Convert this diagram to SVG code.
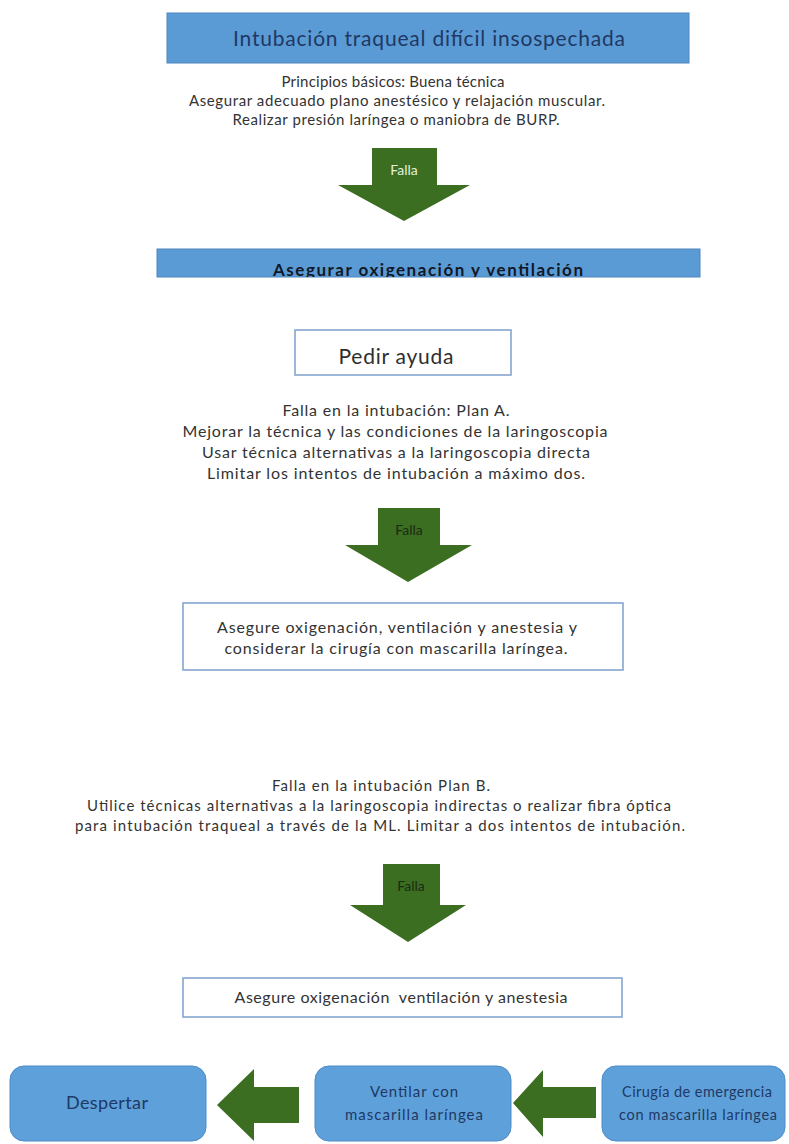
<svg xmlns="http://www.w3.org/2000/svg" width="789" height="1144" viewBox="0 0 789 1144">
<style>
text{font-family:Lato,"Open Sans","Liberation Sans",sans-serif;text-anchor:middle}
.blue{fill:#5b9bd5;stroke:#4f86c0;stroke-width:1}
.wbox{fill:#ffffff;stroke:#86a6cf;stroke-width:1.6}
.rbox{fill:#5ea1da;stroke:#4d8bc6;stroke-width:1}
.navy{fill:#1f3864}
.body{fill:#333333;font-size:15px}
.body15{fill:#333333;font-size:16px}
.arrow{fill:#3b6e21}
.fl{font-size:14px;fill:#e4f0dc}
.fd{font-size:14px;fill:#1c2a14}
</style>
<defs>
<clipPath id="clip2"><rect x="157" y="249" width="543" height="28"/></clipPath>
</defs>
<rect width="789" height="1144" fill="#ffffff"/>

<g id="connectors">
<polygon class="arrow" points="372,148 437,148 437,185 470,185 404,221 338,185 372,185"/>
<polygon class="arrow" points="378,508 440,508 440,545 472,545 408,582 345,545 378,545"/>
<polygon class="arrow" points="383,864 440,864 440,905 466,905 408,942 350,905 383,905"/>
<polygon class="arrow" points="299,1087 254,1087 254,1069 217,1105 254,1141 254,1123 299,1123"/>
<polygon class="arrow" points="596,1087 543,1087 543,1070 513,1103 543,1137 543,1118 596,1118"/>
<text class="fl" x="404" y="175">Falla</text>
<text class="fd" x="409" y="535">Falla</text>
<text class="fd" x="411" y="891">Falla</text>
</g>

<g id="n-title">
<rect class="blue" x="167" y="13" width="522" height="50"/>
<text class="navy" x="429" y="46" font-size="21" textLength="392">Intubación traqueal difícil insospechada</text>
</g>

<g id="n-principios">
<text class="body" x="393" y="87" textLength="223">Principios básicos: Buena técnica</text>
<text class="body" x="397" y="106" textLength="416">Asegurar adecuado plano anestésico y relajación muscular.</text>
<text class="body" x="396" y="125" textLength="327">Realizar presión laríngea o maniobra de BURP.</text>
</g>

<g id="n-asegurar">
<rect class="blue" x="157" y="249" width="543" height="28"/>
<text clip-path="url(#clip2)" x="428" y="276" font-size="17" font-weight="bold" fill="#111827" textLength="310">Asegurar oxigenación y ventilación</text>
</g>

<g id="n-pedir">
<rect class="wbox" x="295" y="330" width="216" height="45"/>
<text x="396" y="364" font-size="21" fill="#2e2e2e" textLength="115">Pedir ayuda</text>
</g>

<g id="n-planA">
<text class="body15" x="396" y="416" textLength="227">Falla en la intubación: Plan A.</text>
<text class="body15" x="395" y="437" textLength="425">Mejorar la técnica y las condiciones de la laringoscopia</text>
<text class="body15" x="396" y="458" textLength="388">Usar técnica alternativas a la laringoscopia directa</text>
<text class="body15" x="396" y="479" textLength="378">Limitar los intentos de intubación a máximo dos.</text>
</g>

<g id="n-box3">
<rect class="wbox" x="183" y="603" width="440" height="67"/>
<text class="body15" x="397" y="633" textLength="360">Asegure oxigenación, ventilación y anestesia y</text>
<text class="body15" x="396" y="654" textLength="343">considerar la cirugía con mascarilla laríngea.</text>
</g>

<g id="n-planB">
<text class="body" x="381" y="791" textLength="218">Falla en la intubación Plan B.</text>
<text class="body" x="379" y="811" textLength="584">Utilice técnicas alternativas a la laringoscopia indirectas o realizar fibra óptica</text>
<text class="body" x="380" y="831" textLength="610">para intubación traqueal a través de la ML. Limitar a dos intentos de intubación.</text>
</g>

<g id="n-box4">
<rect class="wbox" x="183" y="978" width="439" height="39"/>
<text class="body15" x="401" y="1003" textLength="333" xml:space="preserve">Asegure oxigenación  ventilación y anestesia</text>
</g>

<g id="n-despertar">
<rect class="rbox" x="10" y="1066" width="196" height="75" rx="14"/>
<text class="navy" x="107" y="1109" font-size="18" textLength="82">Despertar</text>
</g>

<g id="n-ventilar">
<rect class="rbox" x="315" y="1066" width="196" height="75" rx="14"/>
<text class="navy" x="414" y="1097" font-size="15" textLength="88">Ventilar con</text>
<text class="navy" x="414" y="1120" font-size="15" textLength="138">mascarilla laríngea</text>
</g>

<g id="n-cirugia">
<rect class="rbox" x="602" y="1066" width="183" height="75" rx="14"/>
<text class="navy" x="697" y="1097" font-size="14.5" textLength="150">Cirugía de emergencia</text>
<text class="navy" x="698" y="1120" font-size="14.5" textLength="158">con mascarilla laríngea</text>
</g>
</svg>
